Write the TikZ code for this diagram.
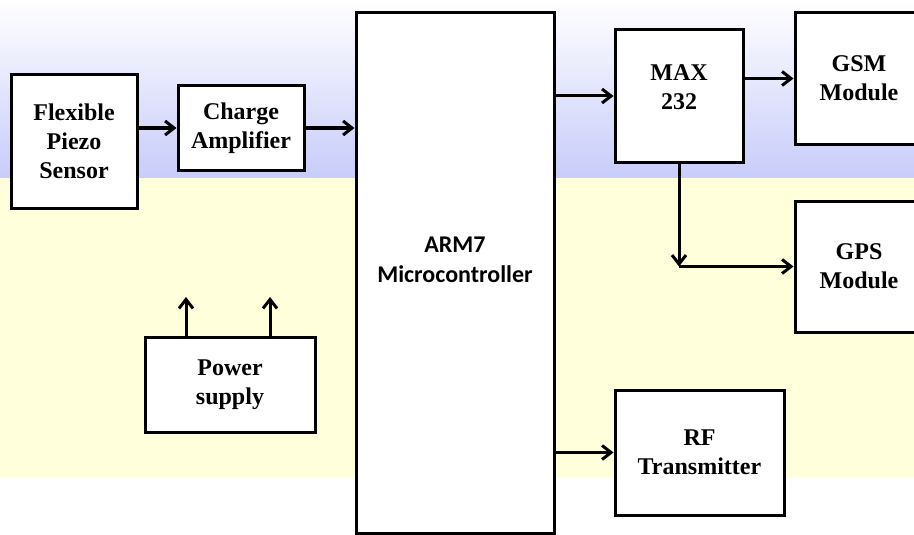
\documentclass[tikz,border=0pt]{standalone}
\usepackage{fontspec}
\setmainfont{Liberation Serif}
\newfontfamily\mcufont{Carlito}
\usepackage{xcolor}
\usepackage{tikz}
\usetikzlibrary{arrows.meta, positioning}
\definecolor{bandblue}{HTML}{C8CCFA}
\definecolor{bandyellow}{HTML}{FFFFDC}

\begin{document}
\begin{tikzpicture}[
    x=1pt, y=-1pt,
    blk/.style={draw, line width=3pt, fill=white, align=center, inner sep=0pt,
      font=\fontsize{24}{29}\selectfont\bfseries},
    arrow/.style={-{Straight Barb[length=9pt, width=14pt]}, line width=3pt}
]
\useasboundingbox (0,0) rectangle (914,535);
\fill[top color=white, bottom color=bandblue] (0,0) rectangle (914,178);
\fill[bandyellow] (0,178) rectangle (914,478);

\node (sensor) [blk, minimum width=126pt, minimum height=133pt] at (74,141.5) {Flexible\\Piezo\\Sensor};
\node (charge) [blk, minimum width=126pt, minimum height=84pt] at (241,128) {Charge\\Amplifier};
\node (mcu) [blk, minimum width=198pt, minimum height=520pt,
  label={[yshift=13pt, font=\mcufont\fontsize{24}{30}\selectfont\bfseries, align=center]center:ARM7\\Microcontroller}] at (455,273) {};
\node (max) [blk, minimum width=128pt, minimum height=132pt] at (679,96) {MAX\\232\\[-12pt]};
\node (gsm) [blk, minimum width=128pt, minimum height=131pt] at (859,78.5) {GSM\\Module};
\node (gps) [blk, minimum width=128pt, minimum height=131pt] at (859,266.5) {GPS\\Module};
\node (power) [blk, minimum width=170pt, minimum height=95pt] at (230,384.5) {Power\\supply};
\node (rf) [blk, minimum width=169pt, minimum height=125pt] at (699.5,452.5) {RF\\Transmitter};

\coordinate (pw1) at (186,297);
\coordinate (pw2) at (270,297);

\draw[arrow] (sensor.east |- charge.west) -- (charge.west);
\draw[arrow] (charge.east) -- (charge.east -| mcu.west);
\draw[arrow] (mcu.east |- max.west) -- (max.west);
\draw[arrow] (max.east |- gsm.west) -- (gsm.west);
\draw[arrow] (max.south) -- (max.south |- gps.west);
\draw[arrow] (max.south |- gps.west) -- (gps.west);
\draw[arrow] (mcu.east |- rf.west) -- (rf.west);
\draw[arrow] (power.north -| pw1) -- (pw1);
\draw[arrow] (power.north -| pw2) -- (pw2);
\end{tikzpicture}
\end{document}
